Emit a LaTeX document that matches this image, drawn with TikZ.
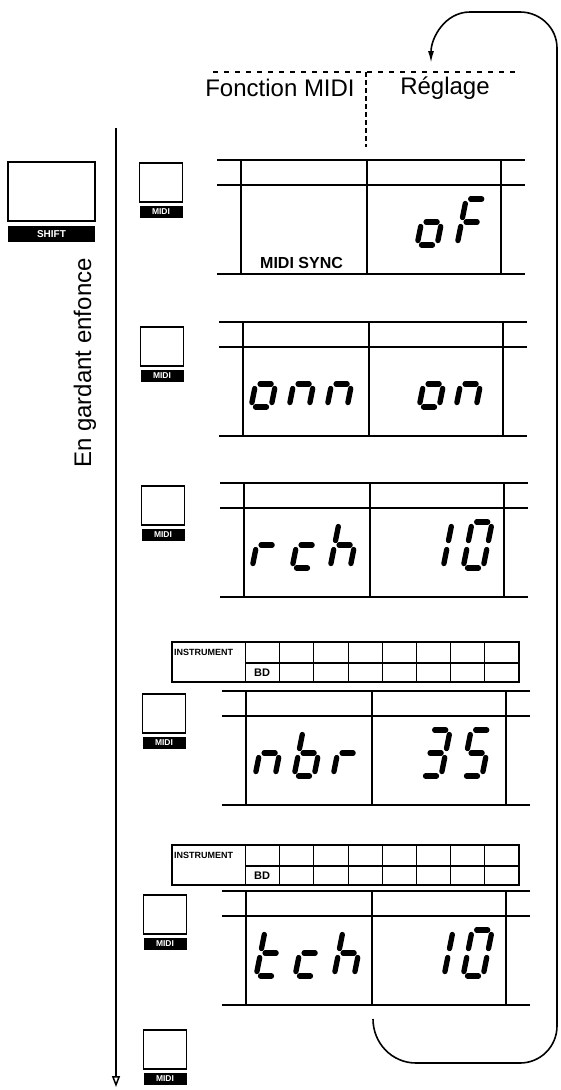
\documentclass[tikz,border=0pt]{standalone}
\usepackage{fontspec}
\setmainfont{Liberation Sans}
\usetikzlibrary{arrows.meta}
\tikzset{
  seg/.style={line width=5.3pt, line cap=round},
  dline/.style={line width=1.3pt},
  sline/.style={line width=1.1pt},
  btn/.style={draw, line width=1.3pt, minimum width=43pt, minimum height=39pt, inner sep=0pt},
  lbl/.style={fill=black, text=white, font=\bfseries\fontsize{8.5}{8.5}\selectfont, minimum width=43pt, minimum height=12pt, inner sep=0pt},
  loopline/.style={line width=1.6pt},
  hdr/.style={font=\fontsize{24}{28}\selectfont, inner sep=0pt}
}
\def\dsega{\draw[seg] (4.5,46) -- (15.5,46);}
\def\dsegb{\draw[seg] (20,41.5) -- (20,27.5);}
\def\dsegc{\draw[seg] (20,18.5) -- (20,4.5);}
\def\dsegd{\draw[seg] (4.5,0) -- (15.5,0);}
\def\dsege{\draw[seg] (0,4.5) -- (0,18.5);}
\def\dsegf{\draw[seg] (0,27.5) -- (0,41.5);}
\def\dsegg{\draw[seg] (4.5,23) -- (15.5,23);}
\newcommand\dgt[3]{%
  \begin{scope}[shift={(#1,#2)}, y=1pt, xslant=0.2]
    \foreach \s in {#3}{\csname dseg\s\endcsname}
  \end{scope}}
\newcommand\disprow[2]{%
  \draw[dline] (#2-24,#1) -- (#2+284,#1);
  \draw[dline] (#2-24,#1+25) -- (#2+284,#1+25);
  \draw[dline] (#2-24,#1+114) -- (#2+284,#1+114);
  \draw[dline] (#2,#1) -- (#2,#1+114);
  \draw[dline] (#2+126,#1) -- (#2+126,#1+114);
  \draw[dline] (#2+260,#1) -- (#2+260,#1+114);}
\newcommand\instr[1]{%
  \draw[sline] (172,#1) rectangle (519,#1+40);
  \draw[sline] (245.5,#1) -- (245.5,#1+40);
  \draw[sline] (245.5,#1+21) -- (519,#1+21);
  \foreach \i in {1,...,7}{\draw[sline] (245.5+34.2*\i,#1) -- (245.5+34.2*\i,#1+40);}
  \node[anchor=west, inner sep=0pt, font=\bfseries\fontsize{9}{9}\selectfont] at (174,#1+10) {INSTRUMENT};
  \node[inner sep=0pt, font=\bfseries\fontsize{11}{11}\selectfont] at (262,#1+31) {BD};}
\begin{document}
\begin{tikzpicture}[x=1pt, y=-1pt]
\useasboundingbox (0,0) rectangle (560,1090);
% header
\draw[line width=1.2pt, dash pattern=on 5pt off 6pt] (213,72) -- (517,72);
\draw[line width=1.2pt, dash pattern=on 5pt off 3pt] (366,72) -- (366,147);
\node[hdr] (fm) at (280,88) {Fonction MIDI};
\node[hdr] (rg) at (445,88) {Réglage};
% loop arrow
\coordinate (loopS) at (373,1019);
\coordinate (loopE) at (431,63);
\draw[loopline, -{Latex[length=12pt,width=6pt]}] (loopS) to[out=-90,in=180] (416,1063) -- (520,1063) to[out=0,in=-90] (557,1026) -- (557,48) to[out=90,in=0] (520,12) -- (470,12) to[out=180,in=90] (loopE);
% left arrow and text
\coordinate (vtop) at (116,128);
\coordinate (vbot) at (116,1087);
\draw[line width=1.5pt, -{Triangle[open,length=11pt,width=8pt]}] (vtop) -- (vbot);
\node[hdr, rotate=90] (eg) at (85,363) {En gardant enfonce};
% shift button
\node[btn, minimum width=87pt, minimum height=59pt] (shiftb) at (51.5,191.5) {};
\node[lbl, minimum width=87pt, minimum height=16pt, font=\bfseries\fontsize{10}{10}\selectfont] (shiftl) at (51.5,234) {SHIFT};
% midi buttons
\node[btn] (m1) at (161,182.5) {};  \node[lbl] (m1l) at (161,212) {MIDI};
\node[btn] (m2) at (162,346.5) {};  \node[lbl] (m2l) at (162,376) {MIDI};
\node[btn] (m3) at (163,505.5) {};  \node[lbl] (m3l) at (163,535) {MIDI};
\node[btn] (m4) at (164,713.5) {};  \node[lbl] (m4l) at (164,743) {MIDI};
\node[btn] (m5) at (165,914.5) {};  \node[lbl] (m5l) at (165,944) {MIDI};
\node[btn] (m6) at (165,1049.5) {}; \node[lbl] (m6l) at (165,1079) {MIDI};
% displays
\disprow{160}{241}
\disprow{322}{243}
\disprow{483}{244}
\disprow{691}{246}
\disprow{891}{246}
\instr{642}
\instr{845}
% row 1
\node[anchor=base west, inner sep=0pt, font=\bfseries\fontsize{16}{16}\selectfont] (ms) at (260,268) {MIDI SYNC};
\dgt{417}{245}{c,d,e,g}
\dgt{457}{245}{a,e,f,g}
% row 2
\dgt{251}{407}{c,d,e,g}
\dgt{289}{407}{c,e,g}
\dgt{327}{407}{c,e,g}
\dgt{419}{407}{c,d,e,g}
\dgt{456}{407}{c,e,g}
% row 3
\dgt{252}{568}{e,g}
\dgt{292}{568}{d,e,g}
\dgt{330}{568}{c,e,f,g}
\dgt{423}{568}{b,c}
\dgt{463}{568}{a,b,c,d,e,f}
% row 4
\dgt{255}{776}{c,e,g}
\dgt{294}{776}{c,d,e,f,g}
\dgt{333}{776}{e,g}
\dgt{421}{776}{a,b,c,d,g}
\dgt{462}{776}{a,c,d,f,g}
% row 5
\dgt{256}{976}{d,e,f,g}
\dgt{295}{976}{d,e,g}
\dgt{334}{976}{c,e,f,g}
\dgt{424}{976}{b,c}
\dgt{463}{976}{a,b,c,d,e,f}
\end{tikzpicture}
\end{document}
